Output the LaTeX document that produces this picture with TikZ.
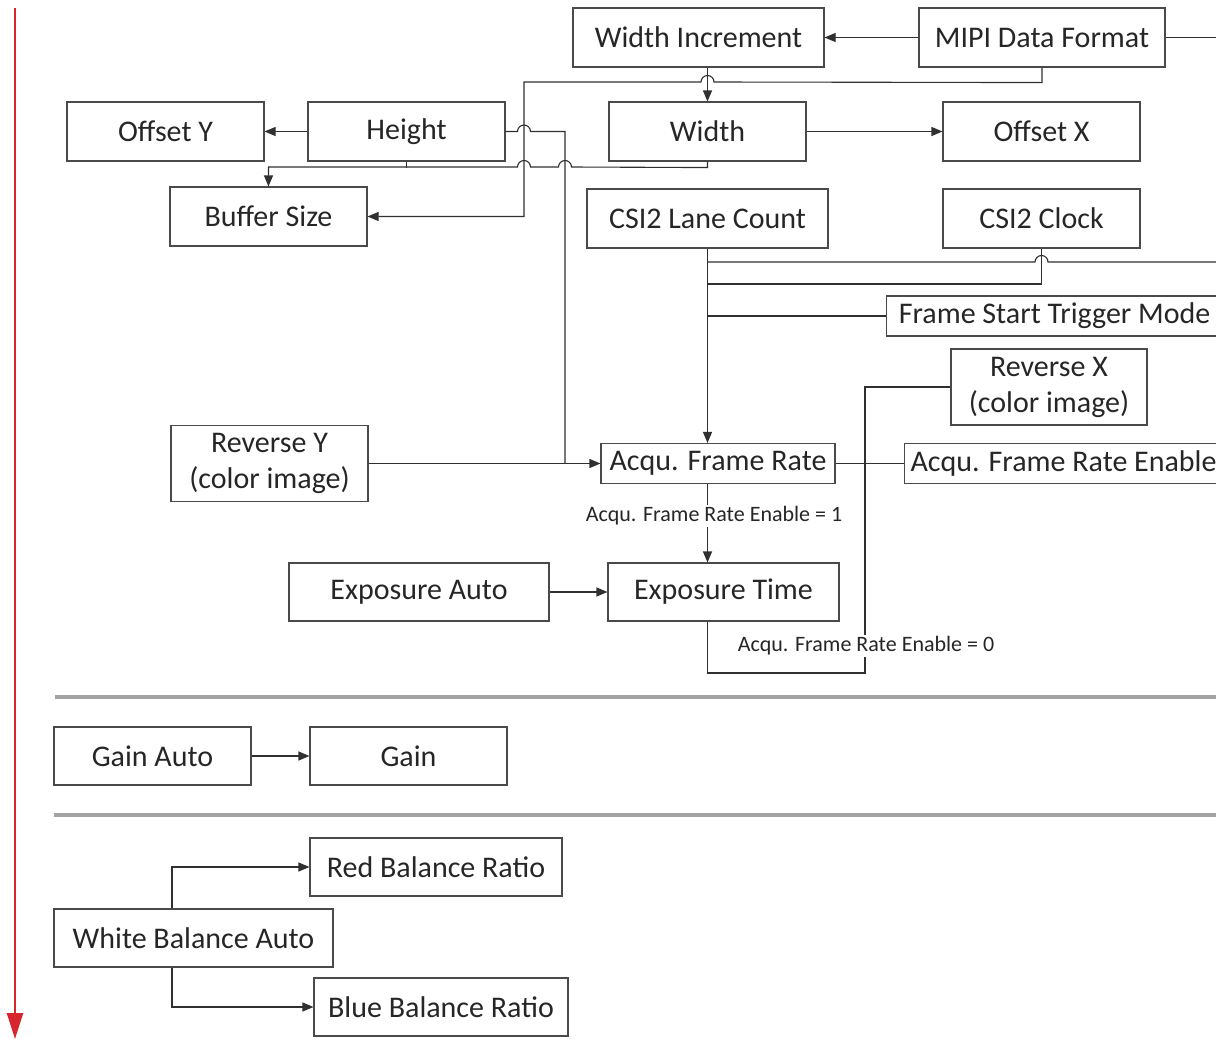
\documentclass[tikz,border=0pt]{standalone}
\usepackage{fontspec}
\setmainfont{Carlito}
\usetikzlibrary{arrows.meta}
\definecolor{line-dark}{HTML}{303030}
\definecolor{box-edge}{HTML}{4A4A4A}
\definecolor{sep-grey}{HTML}{A3A3A6}
\definecolor{time-red}{HTML}{D7262E}

\begin{document}
\begin{tikzpicture}[x=1pt, y=-1pt,
  every node/.style={font=\fontsize{30}{36}\selectfont, text=black!85},
  box/.style={draw=box-edge, line width=1.1pt, inner sep=4pt, align=center, minimum height=59pt},
  cond/.style={font=\fontsize{22}{26}\selectfont, fill=white, inner sep=2pt},
  conn/.style={draw=line-dark, line width=1.1pt},
  >={Triangle[length=11pt, width=9pt]}]
  \useasboundingbox (0,0) rectangle (1216,1039);
  % time axis
  \draw[time-red, line width=2.4pt, -{Triangle[length=26pt, width=16pt]}] (15,8) -- (15,1039);

  % image format and acquisition
  \node[box, minimum width=251pt] (winc) at (698.5,37.5) {Width Increment};
  \node[box, minimum width=246pt] (mipi) at (1042,37.5) {MIPI Data Format};
  \coordinate (mipiout) at (1222,37.5);
  \node[box, minimum width=197pt] (offy) at (165.5,131.5) {Offset Y};
  \node[box, minimum width=197pt] (height) at (406.5,131.5) {Height};
  \node[box, minimum width=197pt] (width) at (707.5,131.5) {Width};
  \node[box, minimum width=197pt] (offx) at (1041.5,131.5) {Offset X};
  \node[box, minimum width=197pt] (buf) at (268.5,216.5) {Buffer Size};
  \node[box, minimum width=241pt] (lane) at (707.5,218.5) {CSI2 Lane Count};
  \node[box, minimum width=197pt] (clock) at (1041.5,218.5) {CSI2 Clock};
  \coordinate (laneout) at (1222,262);
  \node[box, minimum width=336pt, minimum height=40pt, anchor=west] (fstm) at (886,316) {Frame Start Trigger Mode};
  \node[box, minimum width=196pt, minimum height=76pt] (revx) at (1049,387) {Reverse X\\(color image)};
  \node[box, minimum width=197pt, minimum height=76pt] (revy) at (269.5,463.5) {Reverse Y\\(color image)};
  \node[box, minimum width=234pt, minimum height=40pt] (afr) at (718,463.5) {Acqu. Frame Rate};
  \node[box, minimum width=318pt, minimum height=40pt, anchor=west] (afre) at (904,463.5) {Acqu. Frame Rate Enable};
  \node[box, minimum width=260pt, minimum height=58pt] (expa) at (419,592) {Exposure Auto};
  \node[box, minimum width=231pt, minimum height=58pt] (expt) at (723.5,592) {Exposure Time};

  \draw[conn, ->] (mipi.west) -- (winc.east);
  \draw[conn] (mipi.east) -- (mipiout);
  \draw[conn, ->] (mipi.south) -- ++(0,15) -- (714,82) arc[start angle=0, end angle=180, radius=6.5pt] -- (524,82) |- (buf.east);
  \draw[conn, ->] (width.north |- winc.south) -- (width.north);
  \draw[conn, ->] (height.west) -- (offy.east);
  \draw[conn, ->] (width.east) -- (offx.west);
  \draw[conn] (height.east) -- (517.5,131.5) arc[start angle=180, end angle=0, radius=6.5pt] -- (565,131.5) -- (565,463.5);
  \draw[conn, ->] (revy.east) -- (afr.west);
  \draw[conn, ->] (width.south) -- ++(0,6) -- (571.5,167) arc[start angle=0, end angle=180, radius=6.5pt]
    -- (530.5,167) arc[start angle=0, end angle=180, radius=6.5pt] -- (517.5,167) -| (buf.north);
  \draw[conn] (height.south) -- ++(0,6);
  \draw[conn, ->] (lane.south) -- (lane.south |- afr.north);
  \draw[conn] (clock.south) |- (lane.south |- 0,284);
  \draw[conn] (lane.south |- 0,262) -- (1035,262) arc[start angle=180, end angle=0, radius=6.5pt] -- (laneout);
  \draw[conn] (fstm.west) -- (fstm.west -| lane.south);
  \draw[conn] (revx.west) -- (865,387) -- (865,673) -| (lane.south |- expt.south);
  \draw[conn] (afr.east) -- (afre.west);
  \draw[conn, ->] (lane.south |- afr.south) -- (lane.south |- expt.north);
  \draw[conn, ->] (expa.east) -- (expt.west);
  \node[cond] (en1) at (714,516) {Acqu. Frame Rate Enable = 1};
  \node[cond] (en0) at (866,646) {Acqu. Frame Rate Enable = 0};

  % gain
  \draw[sep-grey, line width=4.5pt] (55,697) -- (1216,697);
  \node[box, minimum width=197pt, minimum height=58pt] (gaina) at (152.5,756) {Gain Auto};
  \node[box, minimum width=197pt, minimum height=58pt] (gain) at (408.5,756) {Gain};
  \draw[conn, ->] (gaina.east) -- (gain.west);

  % white balance
  \draw[sep-grey, line width=4.5pt] (54,815) -- (1216,815);
  \node[box, minimum width=252pt, minimum height=58pt] (red) at (436,867) {Red Balance Ratio};
  \node[box, minimum width=279pt, minimum height=58pt] (wba) at (193.5,938) {White Balance Auto};
  \node[box, minimum width=254pt, minimum height=58pt] (blue) at (441,1007) {Blue Balance Ratio};
  \draw[conn, ->] ([xshift=-21.5pt]wba.north) |- (red.west);
  \draw[conn, ->] ([xshift=-21.5pt]wba.south) |- (blue.west);
\end{tikzpicture}
\end{document}
